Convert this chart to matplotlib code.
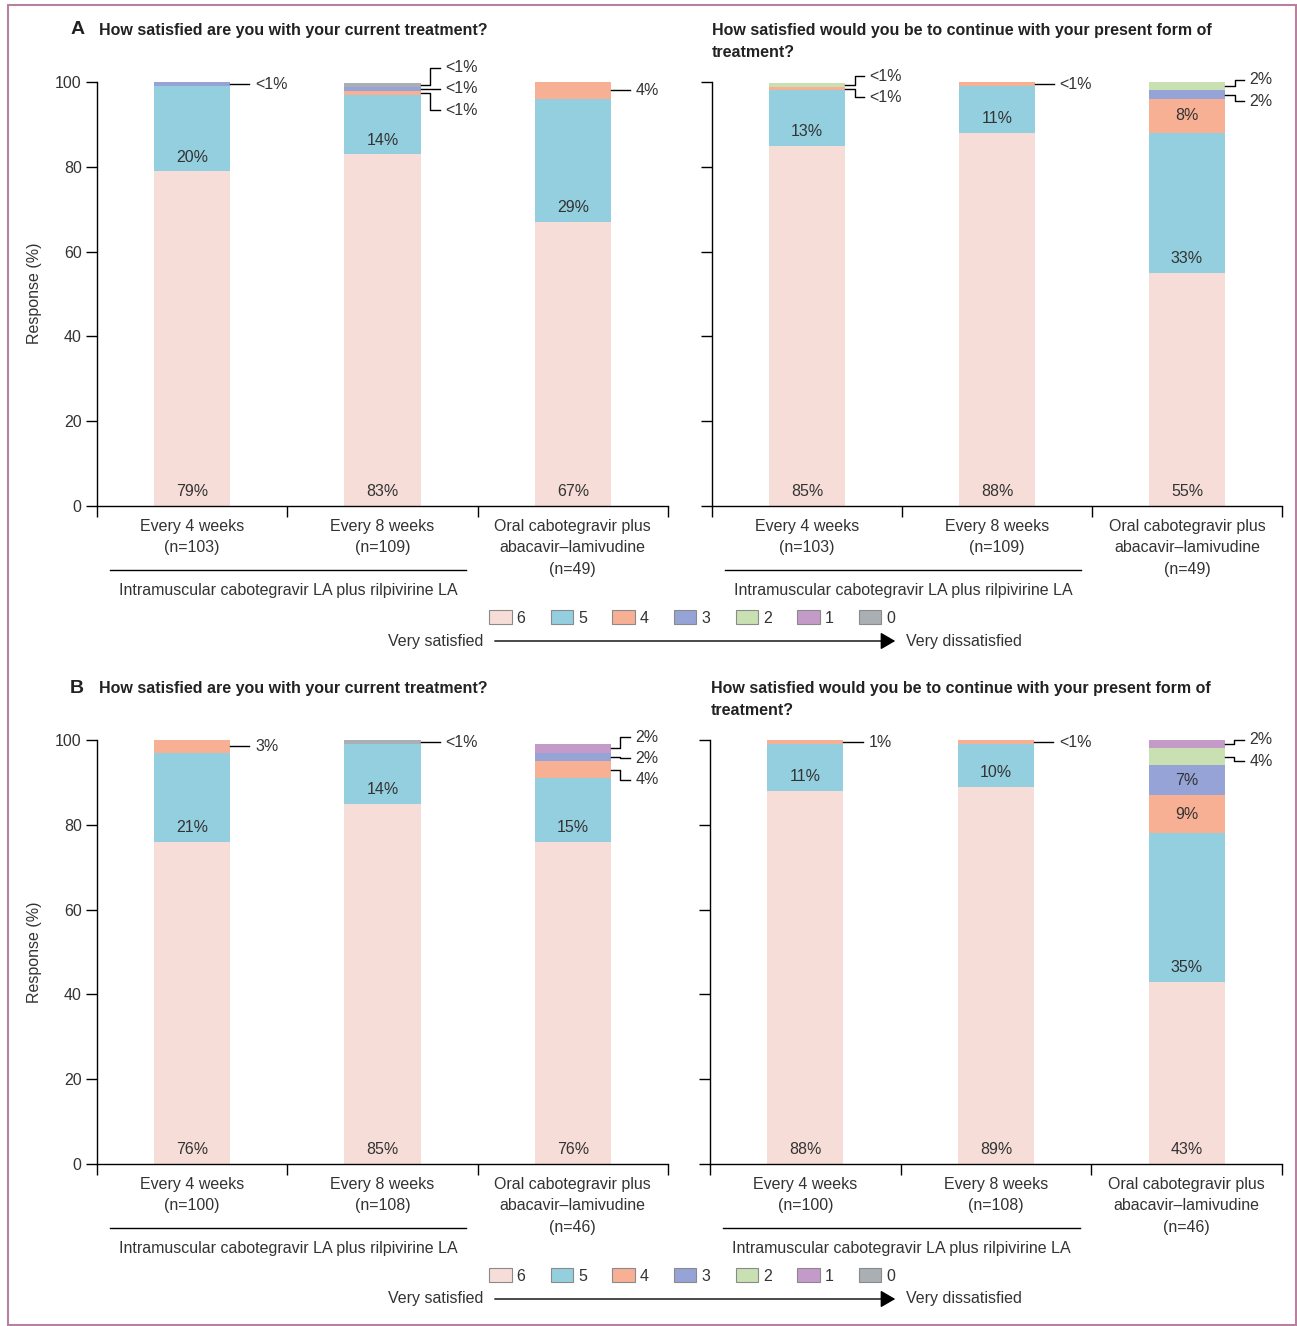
import matplotlib
matplotlib.use("Agg")
import matplotlib.pyplot as plt
from matplotlib.patches import Patch, Rectangle, FancyArrowPatch
import numpy as np

W, H = 1297, 1326
plt.rcParams['font.family'] = ['Liberation Sans', 'DejaVu Sans']

# Satisfaction scores (6 = very satisfied ... 0 = very dissatisfied)
scores = ["6", "5", "4", "3", "2", "1", "0"]
colors = ["#f6ddd8", "#94cfe0", "#f8b095", "#95a3d6", "#c8e0b2", "#c49ac8", "#a9afb3"]

arms_A = ["Every 4 weeks\n(n=103)", "Every 8 weeks\n(n=109)",
          "Oral cabotegravir plus\nabacavir–lamivudine\n(n=49)"]
arms_B = ["Every 4 weeks\n(n=100)", "Every 8 weeks\n(n=108)",
          "Oral cabotegravir plus\nabacavir–lamivudine\n(n=46)"]
group_label = "Intramuscular cabotegravir LA plus rilpivirine LA"

title_current = "How satisfied are you with your current treatment?"
title_continue = "How satisfied would you be to continue with your present form of\ntreatment?"

# Response (%) per arm, ordered by score 6, 5, 4, 3, 2, 1, 0
A_current = [[79, 20, 0, 0.9, 0, 0, 0],
             [83, 14, 0.9, 0.9, 0, 0, 0.9],
             [67, 29, 4, 0, 0, 0, 0]]
A_continue = [[85, 13, 0.9, 0, 0.9, 0, 0],
              [88, 11, 0.9, 0, 0, 0, 0],
              [55, 33, 8, 2, 2, 0, 0]]
B_current = [[76, 21, 3, 0, 0, 0, 0],
             [85, 14, 0, 0, 0, 0, 0.9],
             [76, 15, 4, 2, 0, 2, 0]]
B_continue = [[88, 11, 1, 0, 0, 0, 0],
              [89, 10, 0.9, 0, 0, 0, 0],
              [43, 35, 9, 7, 4, 2, 0]]

TXT = "#333333"
FS = 11.5


def fmt(v):
    return "<1%" if v < 1 else f"{v:g}%"


def fx(px):
    return px / W


def fy(py):
    return 1 - py / H


def draw_panel(ax, data, arms, show_ylabels):
    bw = 0.4
    for i, row in enumerate(data):
        bottom = 0.0
        small = []
        for k, v in enumerate(row):
            if v <= 0:
                continue
            ax.bar(i, v, bottom=bottom, width=bw, color=colors[k], linewidth=0)
            if k == 0:
                ax.text(i, 3.4, fmt(v), ha="center", va="center", fontsize=FS, color=TXT)
            elif k == 1:
                ax.text(i, bottom + 3.3, fmt(v), ha="center", va="center", fontsize=FS, color=TXT)
            elif v >= 5:
                ax.text(i, bottom + v / 2, fmt(v), ha="center", va="center", fontsize=FS, color=TXT)
            else:
                small.append((bottom + v / 2, v))
            bottom += v
        if not small:
            continue
        # callouts for thin segments, spread apart when they crowd
        small.sort(key=lambda s: -s[0])
        centers = [c for c, _ in small]
        pos = list(centers)
        gap = 5.0
        for j in range(1, len(pos)):
            if pos[j - 1] - pos[j] < gap:
                pos[j] = pos[j - 1] - gap
        shift = np.mean(centers) - np.mean(pos)
        if len(pos) > 1:
            pos = [p + shift for p in pos]
        x0 = i + bw / 2
        x1 = x0 + 0.05
        x2 = x0 + 0.1
        for (c, v), p in zip(small, pos):
            if abs(p - c) < 0.3:
                ax.plot([x0, x2], [c, c], color="black", lw=1, clip_on=False)
                p = c
            else:
                ax.plot([x0, x1, x1, x2], [c, c, p, p], color="black", lw=1, clip_on=False)
            ax.text(x2 + 0.03, p, fmt(v), ha="left", va="center", fontsize=FS, color=TXT)

    ax.set_xlim(-0.5, 2.5)
    ax.set_ylim(0, 100)
    ax.set_yticks(range(0, 101, 20))
    if not show_ylabels:
        ax.set_yticklabels([])
    ax.set_xticks(range(3))
    ax.set_xticklabels(arms, fontsize=FS, color=TXT, linespacing=1.55, va="top")
    ax.tick_params(axis="x", length=0, pad=9)
    ax.set_xticks([-0.5, 0.5, 1.5, 2.5], minor=True)
    ax.tick_params(axis="x", which="minor", length=8, width=1, direction="out")
    ax.tick_params(axis="y", length=8, width=1, direction="out", labelsize=FS, labelcolor=TXT, pad=3)
    for s in ["top", "right"]:
        ax.spines[s].set_visible(False)
    for s in ["left", "bottom"]:
        ax.spines[s].set_linewidth(1)
    trans = ax.get_xaxis_transform()
    ax.plot([-0.43, 1.44], [-64 / 424, -64 / 424], color="black", lw=1,
            transform=trans, clip_on=False)
    ax.text(0.505, -84 / 424, group_label, ha="center", va="center",
            fontsize=FS, color=TXT, transform=trans)


fig = plt.figure(figsize=(W / 100, H / 100), dpi=100)

panels = [
    (97, 506, 571, A_current, arms_A, True),
    (712, 506, 570, A_continue, arms_A, False),
    (97, 1164, 571, B_current, arms_B, True),
    (710, 1164, 572, B_continue, arms_B, False),
]
for left, base, width, data, arms, lab in panels:
    ax = fig.add_axes([fx(left), fy(base), width / W, 424 / H])
    draw_panel(ax, data, arms, lab)

# panel letters and titles
for letter, ytop, xl, xr in [("A", 30, 78, 712), ("B", 688, 77, 711)]:
    fig.text(fx(xl), fy(ytop), letter, fontsize=14, fontweight="bold",
             ha="center", va="center", color="#222222")
    fig.text(fx(99), fy(ytop), title_current, fontsize=11.5, fontweight="bold",
             ha="left", va="center", color="#222222")
    fig.text(fx(xr), fy(ytop - 7), title_continue, fontsize=11.5, fontweight="bold",
             ha="left", va="top", color="#222222", linespacing=1.6)

# y-axis labels
for yc in (293, 952):
    fig.text(fx(35), fy(yc), "Response (%)", rotation=90, fontsize=FS,
             ha="center", va="center", color=TXT)

# legends and satisfaction arrows
handles = [Patch(facecolor=c, edgecolor="#8a8a8a", linewidth=0.8) for c in colors]
for ly in (618, 1276):
    fig.legend(handles, scores, loc="center", bbox_to_anchor=(fx(692), fy(ly)),
               ncol=7, frameon=False, fontsize=FS, handlelength=1.4, handleheight=0.9,
               handletextpad=0.3, columnspacing=1.6, labelcolor=TXT)
    ay = ly + 23
    fig.text(fx(483), fy(ay), "Very satisfied", ha="right", va="center",
             fontsize=FS, color=TXT)
    fig.text(fx(906), fy(ay), "Very dissatisfied", ha="left", va="center",
             fontsize=FS, color=TXT)
    fig.add_artist(FancyArrowPatch(
        (fx(492), fy(ay)), (fx(898), fy(ay)), transform=fig.transFigure,
        arrowstyle="-|>,head_length=6,head_width=3.5", color="black", lw=1,
        mutation_scale=1.5))

# outer frame
fig.add_artist(Rectangle((fx(8), fy(1325)), fx(1288), 1320 / H,
                         transform=fig.transFigure, fill=False,
                         edgecolor="#b8819f", linewidth=1.5))

fig.savefig("out.png", dpi=100)
